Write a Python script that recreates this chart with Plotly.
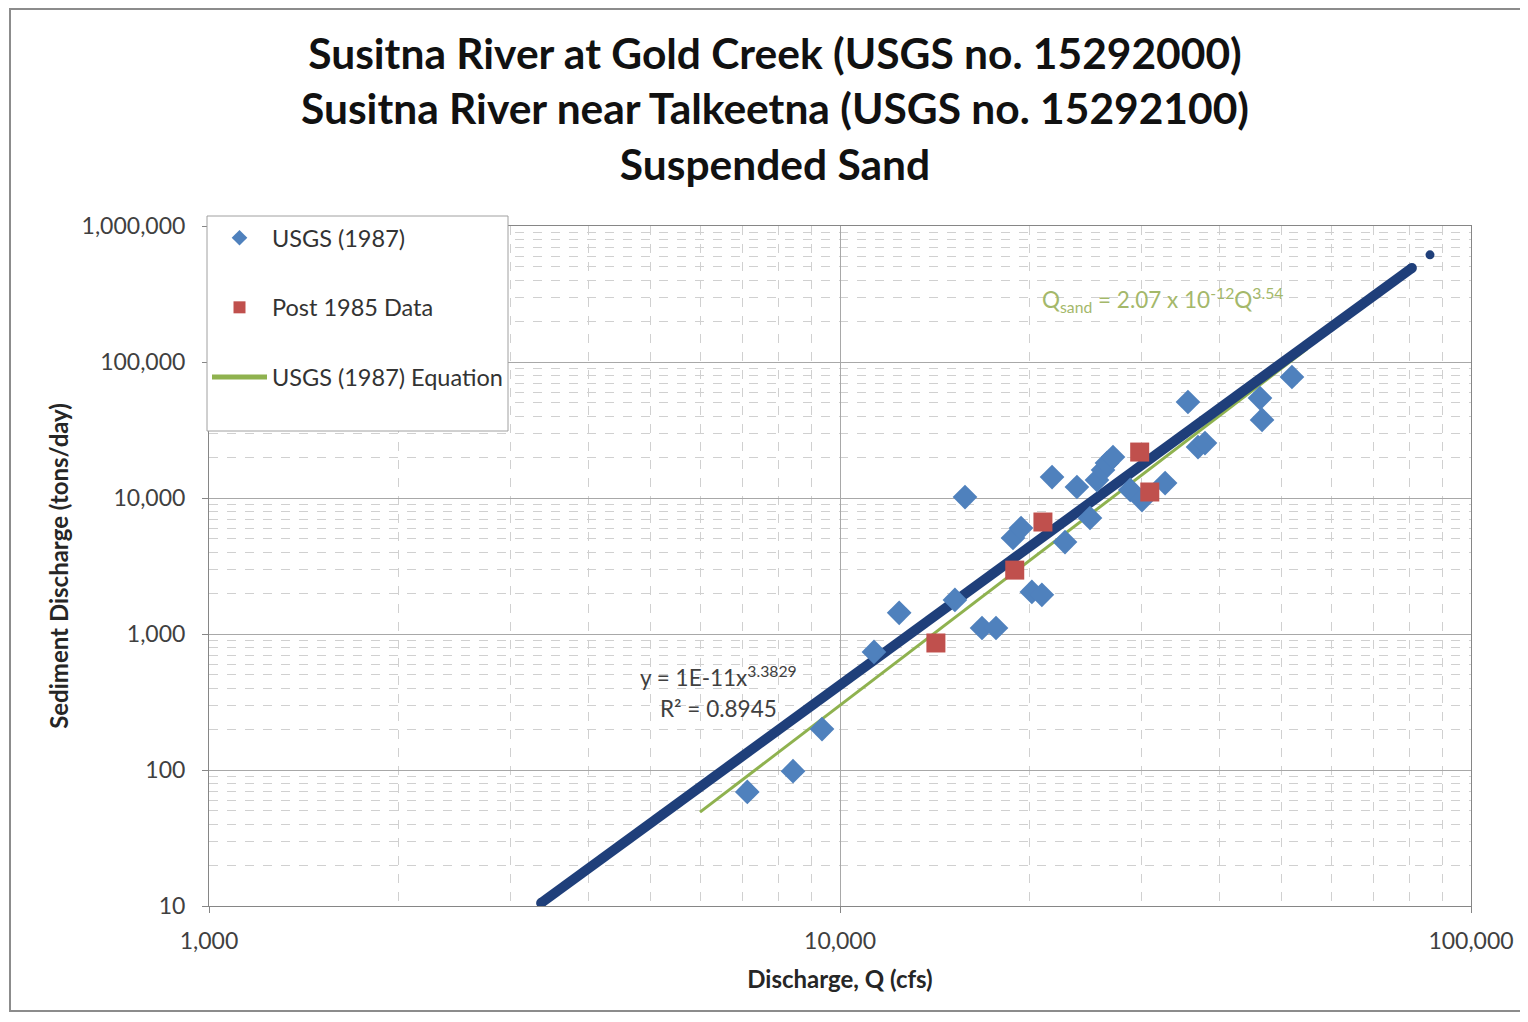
import plotly.graph_objects as go

# ---------------- data ----------------
usgs_q = [7130, 8425, 9365, 11320, 12410, 15210, 15780, 16790, 17670, 18800,
          19360, 20140, 20890, 21680, 22730, 23740, 24900, 25540, 26110, 26490,
          27080, 28840, 30100, 32750, 35600, 36930, 37880, 46300, 46650, 52030]
usgs_s = [69, 98, 200, 738, 1430, 1780, 10160, 1107, 1107, 5080,
          6010, 2040, 1940, 14260, 4740, 12050, 7130, 13550, 16070, 18070,
          20000, 11460, 9660, 12880, 50800, 23700, 25350, 54300, 37500, 77600]

post_q = [14190, 18920, 20970, 29850, 30970]
post_s = [859, 2950, 6660, 21770, 11070]

# USGS (1987) equation: Qsand = 2.07e-12 * Q^3.54
eq_coef = 2.07e-12
eq_exp = 3.54
eq_q = [6000, 55000]

# power trendline through the USGS (1987) data: y = 1E-11 x^3.3829
fit_coef = 1.24e-11
fit_exp = 3.3829
fit_q = [3360, 80600]
fit_extra_q = [86100]

x_tickvals = [1000, 10000, 100000]
x_ticktext = ["1,000", "10,000", "100,000"]
y_tickvals = [10, 100, 1000, 10000, 100000, 1000000]
y_ticktext = ["10", "100", "1,000", "10,000", "100,000", "1,000,000"]

# ---------------- figure ----------------
FONT = "Lato"
BLUE = "#4f81bd"
RED = "#c0504d"
GREEN = "#8fb24f"
NAVY = "#1f3f7a"

W, H = 1512, 1006
L, T, PW, PH = 201, 218, 1262, 680


def px(xp):  # figure-pixel x -> paper
    return (xp - L) / PW


def py(yp):  # figure-pixel y -> paper
    return (T + PH - yp) / PH


eq_s = [eq_coef * q ** eq_exp for q in eq_q]
fit_s = [fit_coef * q ** fit_exp for q in fit_q]
fit_extra_s = [fit_coef * q ** fit_exp for q in fit_extra_q]

fig = go.Figure()

fig.add_trace(go.Scatter(
    x=eq_q, y=eq_s, mode="lines", name="USGS (1987) Equation",
    line=dict(color=GREEN, width=3), legendgroup="c", legendrank=3))

fig.add_trace(go.Scatter(
    x=fit_q, y=fit_s, mode="lines+markers", showlegend=False,
    line=dict(color=NAVY, width=10), marker=dict(color=NAVY, size=10)))
fig.add_trace(go.Scatter(
    x=fit_extra_q, y=fit_extra_s, mode="markers", showlegend=False,
    marker=dict(color=NAVY, size=9)))

fig.add_trace(go.Scatter(
    x=usgs_q, y=usgs_s, mode="markers", name="USGS (1987)",
    marker=dict(symbol="diamond", color=BLUE, size=19, line=dict(width=0)),
    legendgroup="a", legendrank=1))

fig.add_trace(go.Scatter(
    x=post_q, y=post_s, mode="markers", name="Post 1985 Data",
    marker=dict(symbol="square", color=RED, size=19, line=dict(width=0)),
    legendgroup="b", legendrank=2))

minor_x = [m * 10 ** d for d in (3, 4) for m in range(2, 10)]
minor_y = [m * 10 ** d for d in (1, 2, 3, 4, 5) for m in range(2, 10)]

axis_common = dict(
    type="log", showline=True, linecolor="#868686", linewidth=1, mirror=True,
    showgrid=True, gridcolor="#a8a8a8", gridwidth=1,
    ticks="outside", ticklen=6, tickcolor="#868686",
    tickfont=dict(family=FONT, size=23, color="#404040"),
    zeroline=False, automargin=False,
)

fig.update_xaxes(
    **axis_common,
    range=[3, 5],
    tickmode="array", tickvals=x_tickvals, ticktext=x_ticktext,
    ticklabelstandoff=8,
    minor=dict(tickmode="array", tickvals=minor_x, showgrid=True,
               gridcolor="#d0d0d0", griddash="dash", ticks=""),
    title=dict(text="<b>Discharge, Q (cfs)</b>", standoff=18,
               font=dict(family=FONT, size=24, color="#262626")),
)
fig.update_yaxes(
    **axis_common,
    range=[1, 6],
    tickmode="array", tickvals=y_tickvals, ticktext=y_ticktext,
    ticklabelstandoff=12,
    minor=dict(tickmode="array", tickvals=minor_y, showgrid=True,
               gridcolor="#d0d0d0", griddash="dash", ticks=""),
    title=dict(text="<b>Sediment Discharge (tons/day)</b>", standoff=6,
               font=dict(family=FONT, size=24, color="#262626")),
)

fig.update_layout(
    width=W, height=H,
    margin=dict(l=L, r=W - L - PW, t=T, b=H - T - PH),
    paper_bgcolor="white", plot_bgcolor="white",
    title=dict(
        text="<b>Susitna River at Gold Creek (USGS no. 15292000)<br>"
             "Susitna River near Talkeetna (USGS no. 15292100)<br>"
             "Suspended Sand</b>",
        x=767 / W, xanchor="center", y=1 - 61 / H, yanchor="top",
        font=dict(family=FONT, size=42.5, color="#111111"),
    ),
    legend=dict(
        x=px(199), y=py(208), xanchor="left", yanchor="top",
        bgcolor="rgba(0,0,0,0)", borderwidth=0,
        font=dict(family=FONT, size=23.5, color="#333333"),
        traceorder="grouped", tracegroupgap=36, itemsizing="constant",
        itemwidth=55,
    ),
    showlegend=True,
    annotations=[
        dict(text="y = 1E-11x<sup>3.3829</sup>", xref="paper", yref="paper",
             x=px(710), y=py(668), xanchor="center", yanchor="middle",
             showarrow=False, font=dict(family=FONT, size=22.5, color="#404040")),
        dict(text="R² = 0.8945", xref="paper", yref="paper",
             x=px(710), y=py(700), xanchor="center", yanchor="middle",
             showarrow=False, font=dict(family=FONT, size=22.5, color="#404040")),
        dict(text="Q<sub>sand</sub> = 2.07 x 10<sup>-12</sup>Q<sup>3.54</sup>",
             xref="paper", yref="paper", x=px(1154), y=py(292),
             xanchor="center", yanchor="middle", showarrow=False,
             font=dict(family=FONT, size=22.5, color="#a4b86a")),
    ],
    shapes=[
        dict(type="rect", xref="paper", yref="paper",
             x0=px(2), x1=px(1530), y0=py(1003), y1=py(1),
             line=dict(color="#8c8c8c", width=2), layer="below"),
        dict(type="rect", xref="paper", yref="paper",
             x0=px(199), x1=px(500), y0=py(423), y1=py(208),
             fillcolor="white", line=dict(color="#a0a0a0", width=1),
             layer="above"),
    ],
)

fig.write_html("out.html")
